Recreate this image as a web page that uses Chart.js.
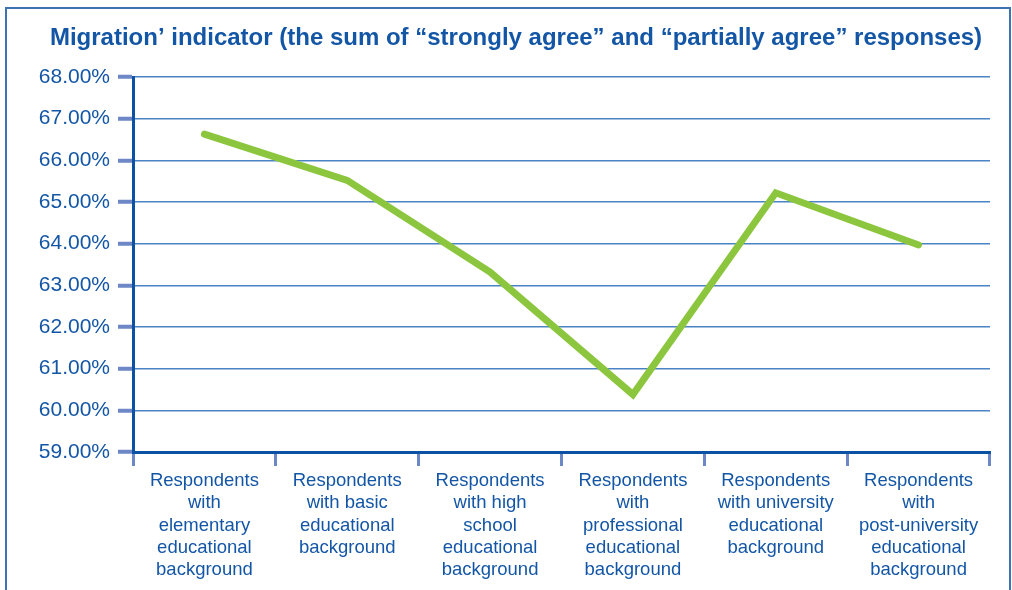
<!DOCTYPE html>
<html>
<head>
<meta charset="utf-8">
<script src="https://cdn.jsdelivr.net/npm/chart.js@4"></script>
<style>
  body { margin: 0; background: #fff; }
  #wrap { position: relative; width: 1012px; height: 590px; overflow: hidden; }
  #frame { position: absolute; left: 5px; top: 7px; width: 1006px; height: 600px; border: 2px solid #3d72b4; box-sizing: border-box; }
  canvas { position: absolute; left: 0; top: 0; }
</style>
</head>
<body>
<div id="wrap">
  <div id="frame"></div>
  <canvas id="migrationChart" width="1012" height="590"></canvas>
</div>
<script>
const chartTitle = 'Migration\u2019 indicator (the sum of \u201cstrongly agree\u201d and \u201cpartially agree\u201d responses)';

const categories = [
    ['Respondents', 'with', 'elementary', 'educational', 'background'],
    ['Respondents', 'with basic', 'educational', 'background'],
    ['Respondents', 'with high', 'school', 'educational', 'background'],
    ['Respondents', 'with', 'professional', 'educational', 'background'],
    ['Respondents', 'with university', 'educational', 'background'],
    ['Respondents', 'with', 'post-university', 'educational', 'background']
];

// share of "strongly agree" + "partially agree", in percent
const migrationValues = [66.63, 65.52, 63.32, 60.38, 65.22, 63.97];

const yMin = 59;
const yMax = 68;
const yStep = 1;

const fontFamily = '"Liberation Sans", Arial, sans-serif';
const blue = '#1456a6';

// heading sits centred over the frame, not over the chart box
const headingPlugin = {
    id: 'heading',
    afterDraw(chart) {
        const c = chart.ctx;
        c.save();
        c.font = 'bold 24px ' + fontFamily;
        c.fillStyle = blue;
        c.textAlign = 'center';
        c.textBaseline = 'middle';
        c.fillText(chartTitle, 516, 38);
        c.restore();
    }
};

const ctx = document.getElementById('migrationChart').getContext('2d');

new Chart(ctx, {
    type: 'line',
    data: {
        labels: categories,
        datasets: [{
            data: migrationValues,
            borderColor: '#8cc63f',
            borderWidth: 7,
            borderCapStyle: 'round',
            borderJoinStyle: 'miter',
            pointRadius: 0,
            tension: 0,
            fill: false
        }]
    },
    plugins: [headingPlugin],
    options: {
        responsive: false,
        animation: false,
        layout: { padding: { left: 0, right: 22, top: 77, bottom: 0 } },
        plugins: {
            legend: { display: false },
            tooltip: { enabled: false },
            title: { display: false }
        },
        scales: {
            x: {
                offset: true,
                afterFit: function(scale) { scale.height = 138; },
                border: { display: true, color: '#0b52a4', width: 3 },
                grid: {
                    display: true,
                    drawOnChartArea: false,
                    drawTicks: true,
                    offset: true,
                    tickLength: 14,
                    tickColor: '#6d87c7',
                    tickWidth: 3
                },
                ticks: {
                    color: blue,
                    font: { family: fontFamily, size: 18.5, lineHeight: 1.2 },
                    padding: 4,
                    maxRotation: 0,
                    minRotation: 0,
                    autoSkip: false
                }
            },
            y: {
                min: yMin,
                max: yMax,
                afterFit: function(scale) { scale.width = 133; },
                border: { display: true, color: '#0b52a4', width: 3 },
                grid: {
                    color: '#4a84c6',
                    lineWidth: 1.5,
                    drawTicks: true,
                    tickLength: 15,
                    tickColor: '#6d87c7',
                    tickWidth: 4
                },
                ticks: {
                    stepSize: yStep,
                    color: blue,
                    padding: 8,
                    font: { family: fontFamily, size: 21 },
                    callback: function(value) { return value.toFixed(2) + '%'; }
                }
            }
        }
    }
});
</script>
</body>
</html>
